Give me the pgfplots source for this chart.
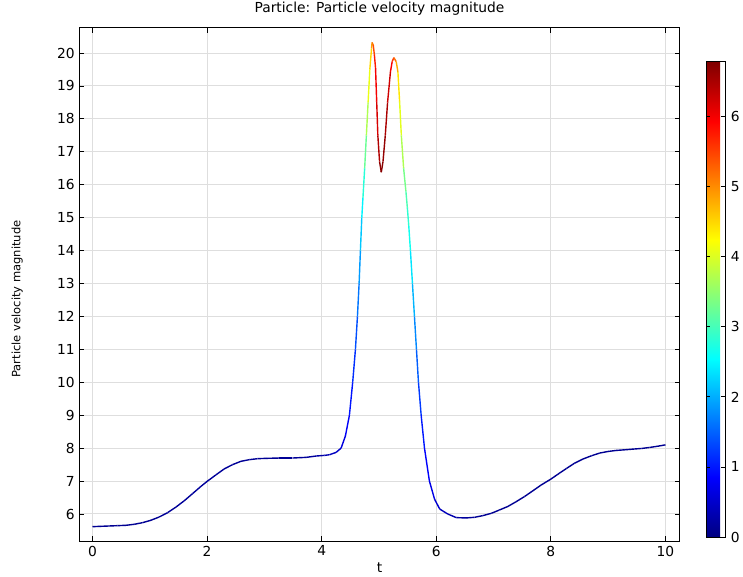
\documentclass[border=0pt]{standalone}
\usepackage{fontspec}
\setmainfont{DejaVu Sans}
\usepackage{pgfplots}
\pgfplotsset{compat=1.18}
\definecolor{gridgray}{HTML}{DEDEDE}

% t, velocity magnitude, colour value
\pgfplotstableread{
t      v      c
0.000  5.615  0.12
0.146  5.626  0.12
0.292  5.636  0.12
0.437  5.646  0.12
0.583  5.657  0.12
0.728  5.687  0.12
0.874  5.737  0.13
1.020  5.81   0.13
1.165  5.91   0.14
1.310  6.04   0.15
1.456  6.21   0.16
1.600  6.40   0.17
1.747  6.62   0.18
1.893  6.84   0.18
2.000  6.99   0.18
2.155  7.19   0.18
2.300  7.37   0.17
2.445  7.50   0.16
2.590  7.60   0.15
2.737  7.65   0.14
2.880  7.68   0.14
3.030  7.69   0.14
3.260  7.70   0.14
3.490  7.70   0.15
3.730  7.72   0.17
3.900  7.76   0.22
4.050  7.78   0.30
4.135  7.80   0.36
4.250  7.87   0.45
4.339  8.00   0.55
4.414  8.37   0.70
4.484  9.00   0.90
4.541  10.00  1.05
4.589  11.00  1.25
4.624  12.00  1.50
4.653  13.00  1.75
4.676  14.00  2.00
4.700  15.00  2.35
4.720  15.60  2.60
4.750  16.50  3.00
4.780  17.50  3.50
4.810  18.50  3.90
4.840  19.50  4.30
4.870  20.14  4.70
4.880  20.32  5.00
4.900  20.24  5.30
4.920  19.94  5.60
4.940  19.54  5.90
4.960  18.52  6.10
4.980  17.50  6.30
5.010  16.70  6.60
5.040  16.38  6.78
5.070  16.70  6.70
5.110  17.50  6.60
5.150  18.50  6.40
5.200  19.43  6.10
5.230  19.74  5.80
5.260  19.86  5.40
5.300  19.74  5.00
5.330  19.43  4.60
5.360  18.52  4.20
5.390  17.50  3.90
5.430  16.50  3.50
5.470  15.80  3.15
5.495  15.30  2.95
5.520  14.75  2.75
5.549  14.00  2.55
5.584  13.00  2.20
5.619  12.00  1.90
5.654  11.00  1.60
5.689  10.00  1.35
5.736  9.00   1.10
5.794  8.00   0.90
5.880  7.00   0.75
5.970  6.45   0.60
6.060  6.15   0.45
6.200  6.00   0.35
6.350  5.89   0.25
6.520  5.88   0.18
6.670  5.90   0.15
6.810  5.95   0.13
6.960  6.02   0.12
7.100  6.12   0.12
7.250  6.23   0.12
7.390  6.37   0.12
7.540  6.53   0.12
7.690  6.71   0.13
7.830  6.88   0.13
8.000  7.06   0.13
8.150  7.24   0.13
8.270  7.38   0.13
8.410  7.54   0.13
8.560  7.67   0.13
8.710  7.77   0.12
8.850  7.85   0.12
9.000  7.90   0.12
9.140  7.93   0.12
9.290  7.95   0.12
9.430  7.97   0.12
9.580  7.99   0.12
9.720  8.02   0.12
9.870  8.06   0.12
10.000 8.10   0.12
}\velocity

\begin{document}
\fontsize{13.8bp}{16bp}\selectfont
\begin{tikzpicture}
\useasboundingbox (-79.5bp,-36bp) rectangle (663.5bp,541bp);
\begin{axis}[
    scale only axis,
    width=600bp, height=513bp,
    xmin=-0.227, xmax=10.245,
    ymin=5.18, ymax=20.76,
    xtick={0,2,...,10},
    ytick={6,7,...,20},
    tick pos=both,
    tick align=inside,
    major tick length=5bp,
    tick style={black, line width=0.8bp},
    axis line style={black, line width=1bp},
    grid=major,
    grid style={gridgray, line width=1bp},
    /pgf/number format/assume math mode=true,
    title={Particle: Particle velocity magnitude},
    title style={at={(axis description cs:0.5,1.0253)}, anchor=center},
    xlabel={t},
    xlabel style={at={(axis description cs:0.5,-0.0526)}, anchor=center},
    ylabel={Particle velocity magnitude},
    ylabel style={at={(axis description cs:-0.104,0.4717)}, anchor=center,
        font=\fontsize{11.5bp}{14bp}\selectfont},
    colormap/jet,
    point meta min=0, point meta max=6.78,
    colorbar,
    colorbar style={
        scale only axis,
        width=19bp, height=475bp,
        at={(parent axis.north east)}, anchor=north west,
        xshift=18bp, yshift=-34bp,
        ytick={0,1,...,6},
        ytick pos=both, yticklabel pos=right,
        tick align=inside,
        major tick length=4bp,
        tick style={black, line width=0.8bp},
        axis line style={black, line width=1bp},
        yticklabel style={xshift=1bp},
        /pgf/number format/assume math mode=true,
    },
]
\addplot[mesh, line width=1.4bp, point meta=explicit]
    table[x=t, y=v, meta=c] {\velocity};
\end{axis}
\end{tikzpicture}
\end{document}
